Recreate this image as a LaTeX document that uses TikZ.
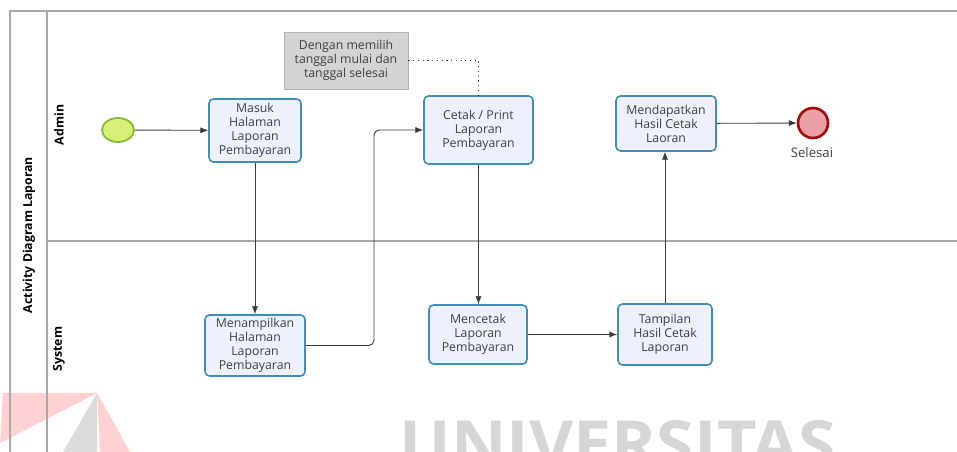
\documentclass[tikz,border=0pt]{standalone}
\usepackage{fontspec}
\setmainfont{Open Sans}
\usepackage{xcolor}
\usetikzlibrary{arrows.meta,shapes.geometric}

\definecolor{boxfill}{RGB}{236,241,253}
\definecolor{boxline}{RGB}{66,140,190}
\definecolor{notefill}{RGB}{212,212,212}
\definecolor{laneline}{RGB}{168,168,168}
\definecolor{txt}{RGB}{64,64,64}
\definecolor{startfill}{RGB}{214,240,122}
\definecolor{startline}{RGB}{132,186,50}
\definecolor{endfill}{RGB}{234,160,166}
\definecolor{endline}{RGB}{165,10,10}

\tikzset{
    activity/.style={draw=boxline, fill=boxfill, line width=0.9pt, rounded corners=2.5pt,
        align=center, text=txt, font=\fontsize{7}{8}\selectfont, inner sep=1pt},
    note/.style={draw=notefill!85!black, fill=notefill, align=center, text=txt,
        font=\fontsize{7}{8}\selectfont, minimum width=2.48cm, minimum height=1.14cm},
    lanetext/.style={rotate=90, font=\fontsize{7}{8}\selectfont\bfseries},
    flow/.style={draw=txt!90!black, line width=0.5pt, -{Latex[length=4.5pt,width=3.5pt]}},
}

\begin{document}
\begin{tikzpicture}[x=0.02cm, y=-0.02cm]
    \useasboundingbox (0, 0) rectangle (957, 452);

    % watermark
    \begin{scope}
    \clip (0, 0) rectangle (957, 452);
    \fill [red!60, opacity=0.3] (3, 393) -- (97, 393) -- (0, 443) -- cycle;
    \fill [red!60, opacity=0.3] (97, 393) -- (130, 452) -- (100, 452) -- cycle;
    \fill [black!14] (97, 393) -- (97, 452) -- (63, 452) -- cycle;
    \node [anchor=base west, text=black!16, font=\fontsize{37}{37}\selectfont\bfseries, xscale=1.05] (wm) at (393, 468) {UNIVERSITAS};
    \end{scope}

    % pool and lanes
    \draw [laneline, line width=0.7pt] (957, 11) -- (10, 11) -- (10, 452);
    \draw [laneline, line width=0.7pt] (47, 11) -- (47, 452);
    \draw [laneline, line width=0.7pt] (47, 241) -- (957, 241);
    \node [lanetext] (pool) at (29, 235) {Activity Diagram Laporan};
    \node [lanetext] (admin) at (59, 125) {Admin};
    \node [lanetext] (system) at (59, 349) {System};

    % admin lane
    \node [draw=startline, fill=startfill, line width=1pt, ellipse, minimum width=0.64cm, minimum height=0.48cm] (start) at (118, 130) {};
    \node [activity, minimum width=1.84cm, minimum height=1.26cm] (masuk) at (255, 130.5) {Masuk\\Halaman\\Laporan\\Pembayaran};
    \node [activity, minimum width=2.18cm, minimum height=1.36cm] (cetak) at (478.5, 130) {Cetak / Print\\Laporan\\Pembayaran};
    \node [activity, minimum width=2cm, minimum height=1.1cm] (dapat) at (666, 123.5) {Mendapatkan\\Hasil Cetak\\Laoran};
    \node [draw=endline, fill=endfill, line width=1.5pt, circle, minimum size=0.6cm] (selesai) at (813, 123) {};
    \node [text=txt, font=\fontsize{7.5}{9}\selectfont] (selesailabel) at (812, 153) {Selesai};
    \node [note] (catatan) at (346, 60.5) {Dengan memilih\\tanggal mulai dan\\tanggal selesai};

    % system lane
    \node [activity, minimum width=2cm, minimum height=1.22cm] (tampil) at (255, 345.5) {Menampilkan\\Halaman\\Laporan\\Pembayaran};
    \node [activity, minimum width=1.96cm, minimum height=1.18cm] (mencetak) at (478, 334.5) {Mencetak\\Laporan\\Pembayaran};
    \node [activity, minimum width=1.88cm, minimum height=1.22cm] (hasil) at (665, 334.5) {Tampilan\\Hasil Cetak\\Laporan};

    % flows
    \draw [flow] (start) -- (masuk);
    \draw [flow] (masuk) -- (tampil);
    \draw [flow, rounded corners=3pt] (tampil.east) -- (374, 345.5) |- (cetak.west);
    \draw [flow] (cetak) -- (cetak |- mencetak.north);
    \draw [flow] (mencetak) -- (hasil);
    \draw [flow] (hasil) -- (hasil |- dapat.south);
    \draw [flow] (dapat) -- (selesai);
    \draw [txt, dotted, line width=0.7pt] (catatan.east) -| (cetak.north);
\end{tikzpicture}
\end{document}
